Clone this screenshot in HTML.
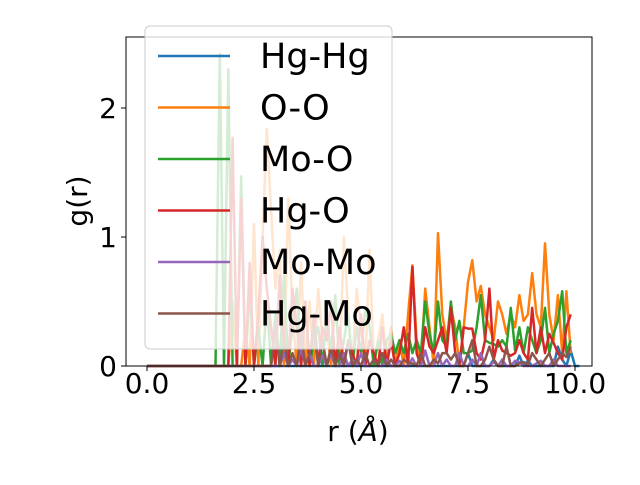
<!DOCTYPE html>
<html><head><meta charset="utf-8"><style>
body{margin:0;background:#fff;}
text{font-family:"DejaVu Sans","Liberation Sans",sans-serif;}
</style></head><body>
<svg id="chart" width="640" height="480" xmlns="http://www.w3.org/2000/svg">
<g id="marks"></g>
<g id="axes"></g>
<g id="legend"></g>
</svg>
<script>
const xTicks=[0,2.5,5,7.5,10];
const xTickLabels=["0.0","2.5","5.0","7.5","10.0"];
const yTicks=[0,1,2];
const yTickLabels=["0","1","2"];
const seriesNames=["Hg-Hg","O-O","Mo-O","Hg-O","Mo-Mo","Hg-Mo"];
const seriesColors=["#1f77b4","#ff7f0e","#2ca02c","#d62728","#9467bd","#8c564b"];
const rStep=0.1;
const hgHg=[0,0,0,0,0,0,0,0,0,0,0,0,0,0,0,0,0,0,0,0,0,0,0,0,0,0,0,0,0,0,0,0,0,0,0,0,0,0,0,0,0,0,0,0,0,0,0,0,0,0,0,0,0,0,0,0,0,0,0,0,0,0,0,0,0,0,0,0,0,0,0,0,0,0,0,0.1,0,0,0,0,0,0.05,0,0,0,0,0,0.08,0,0.04,0,0,0,0,0,0,0.15,0.05,0,0.12,0,0];
const oo=[0,0,0,0,0,0,0,0,0,0,0,0,0,0,0,0,0,0,0,0,0.5,0,0,0.3,0,1.1,0,1.0,1.84,1.2,0.6,0.9,0,1.3,0.4,0,0.8,0,0.5,0,0.6,0.2,0.3,0,0.5,0,1.0,0.4,0,0.6,0.3,0,0.9,0,0.2,0.4,0,0.3,0,0.2,0,0.4,0.78,0.2,0,0.6,0.3,0,1.03,0.4,0.2,0.45,0.3,0,0.3,0.65,0.82,0.5,0.62,0.4,0.3,0.2,0.5,0.4,0.25,0.4,0.3,0.55,0.35,0.4,0.72,0.4,0.3,0.95,0.4,0.2,0.55,0.1,0.58,0.1];
const moO=[0,0,0,0,0,0,0,0,0,0,0,0,0,0,0,0,0,2.42,0,2.3,0,0,1.47,0,0.6,0,0.3,0,0.5,0,0.4,0,0.7,0,0.3,0.6,0,0.5,0,0.2,0.3,0,0.4,0.1,0.55,0,0.2,0.4,0,0.3,0.1,0.45,0.3,0,0.2,0,0.2,0.25,0.1,0.2,0.1,0.25,0.1,0.2,0.1,0.5,0.25,0.1,0.5,0.2,0.15,0.5,0.2,0.35,0.1,0.1,0.12,0.3,0.55,0.2,0.18,0.17,0.15,0.2,0.15,0.45,0.12,0.3,0.1,0.3,0.2,0.1,0.2,0.45,0.1,0.25,0.35,0.58,0.1,0.2];
const hgO=[0,0,0,0,0,0,0,0,0,0,0,0,0,0,0,0,0,0,0,0,1.77,0,1.3,0,0.8,0,0.4,1.0,0.6,0.3,0,0.7,0.2,0,0.6,0.3,0,0.5,0,0.4,0,0.3,0.2,0.5,0,0.3,0,0.2,0.1,0,0.4,0,0.2,0.1,0,0.3,0,0.2,0,0.1,0.3,0,0.77,0.1,0,0.3,0.15,0.1,0.2,0.3,0.1,0.45,0.1,0,0.3,0.29,0.29,0.1,0.05,0.2,0.6,0.05,0.2,0.12,0.1,0.08,0.1,0.2,0.1,0.05,0.45,0.1,0.3,0.1,0.25,0.18,0.1,0.05,0.3,0.4];
const moMo=[0,0,0,0,0,0,0,0,0,0,0,0,0,0,0,0,0,0,0,0,0,0,0,0,0,0,0,0,0,0,0,0,0.1,0,0.05,0,0.15,0,0.1,0,0,0.08,0,0.1,0,0,0.1,0,0.05,0,0.1,0,0,0.05,0,0,0.05,0,0,0.04,0,0,0.06,0,0,0.12,0,0,0.1,0,0.05,0,0,0.1,0,0,0.05,0,0.1,0,0,0.03,0,0.05,0,0,0.04,0.03,0,0,0,0.02,0.04,0,0,0.05,0,0,0,0];
const hgMo=[0,0,0,0,0,0,0,0,0,0,0,0,0,0,0,0,0,0,0,0,0,0,0,0,0,0,0,0,0,0,0.3,0,0.2,0,0.1,0,0.25,0,0.1,0.3,0,0.2,0,0.15,0,0.1,0,0.2,0,0.05,0,0.1,0,0.05,0,0.1,0,0.05,0,0,0.05,0.02,0.02,0,0.1,0,0,0.05,0.02,0.1,0.1,0.05,0.1,0,0,0.1,0.2,0,0,0.05,0.15,0.05,0,0,0.15,0,0,0.02,0.03,0.01,0.1,0.05,0,0.05,0.1,0,0.05,0.1,0.07,0.15];
const seriesValues=[hgHg,oo,moO,hgO,moMo,hgMo];
const NS="http://www.w3.org/2000/svg";
const L=126,R=592,T=37,B=366;
const xS=v=>147+v*42.8;
const yS=v=>366-v*129;
function mk(tag,attrs,parent){const e=document.createElementNS(NS,tag);for(const k in attrs)e.setAttribute(k,attrs[k]);parent.appendChild(e);return e;}
const marks=document.getElementById('marks');
seriesValues.forEach((vals,si)=>{
  const pts=vals.map((v,i)=>xS(i*rStep).toFixed(1)+","+yS(v).toFixed(1)).join(" ");
  const pl=mk('polyline',{points:pts,fill:'none',stroke:seriesColors[si],'stroke-width':2.5,'stroke-linejoin':'round'},marks);
  
  
});
const axes=document.getElementById('axes');
const fr=mk('rect',{x:L,y:T,width:R-L,height:B-T,fill:'none',stroke:'#000','stroke-width':1},axes);


xTicks.forEach((t,i)=>{
  mk('line',{x1:xS(t),x2:xS(t),y1:B,y2:B+5,stroke:'#000'},axes);
  const tx=mk('text',{x:xS(t),y:B+27,'text-anchor':'middle','font-size':28},axes);
  tx.textContent=xTickLabels[i];
  
  
});
yTicks.forEach((t,i)=>{
  mk('line',{x1:L,x2:L-5,y1:yS(t),y2:yS(t),stroke:'#000'},axes);
  const tx=mk('text',{x:L-9,y:yS(t)+10,'text-anchor':'end','font-size':28},axes);
  tx.textContent=yTickLabels[i];
  
  
});
const xt=mk('text',{x:358,y:441,'text-anchor':'middle','font-size':28},axes);
xt.innerHTML='r (<tspan font-style="italic">Å</tspan>)';


const yt=mk('text',{x:87,y:201,'text-anchor':'middle','font-size':28,transform:'rotate(-90 87 201)'},axes);
yt.textContent='g(r)';


const lg=document.getElementById('legend');
const box=mk('rect',{x:145,y:26,width:247,height:323,rx:5,fill:'#fff','fill-opacity':0.8,stroke:'#ccc'},lg);


seriesNames.forEach((n,i)=>{
  const y=56+i*51.5;
  const g=mk('g',{},lg);
  
  
  mk('line',{x1:158,x2:230,y1:y,y2:y,stroke:seriesColors[i],'stroke-width':2.5},g);
  const t=mk('text',{x:260,y:y+12,'font-size':35},g);
  t.textContent=n;
});
</script>
</body></html>
